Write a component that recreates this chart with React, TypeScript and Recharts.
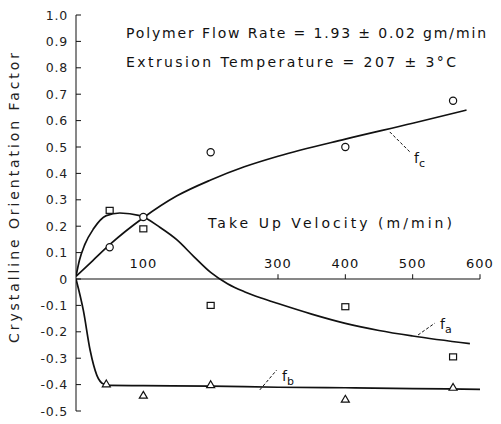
import React from 'react';
import { ComposedChart, Line, Scatter, XAxis, YAxis, ReferenceLine } from 'recharts';

// ---- data ----
const yTicks = [-0.5, -0.4, -0.3, -0.2, -0.1, 0, 0.1, 0.2, 0.3, 0.4, 0.5, 0.6, 0.7, 0.8, 0.9, 1.0];
const xTickLabels = [100, 300, 400, 500, 600];
const xTickMarks = [300, 400, 500, 600];

// fitted curves
const fcCurveX = [0, 25, 50, 100, 150, 200, 250, 300, 400, 500, 580];
const fcCurveY = [0.01, 0.07, 0.13, 0.232, 0.315, 0.375, 0.425, 0.465, 0.53, 0.59, 0.64];
const faCurveX = [0, 5, 13, 26, 45, 65, 95, 125, 150, 175, 200, 225, 250, 275, 300, 350, 400, 450, 500, 585];
const faCurveY = [0.01, 0.07, 0.13, 0.19, 0.24, 0.25, 0.24, 0.195, 0.148, 0.085, 0.025, -0.018, -0.048, -0.072, -0.093, -0.133, -0.168, -0.195, -0.216, -0.245];
const fbCurveX = [0, 11, 21, 31, 41, 50, 100, 200, 300, 400, 500, 600];
const fbCurveY = [0, -0.12, -0.27, -0.365, -0.398, -0.403, -0.404, -0.406, -0.41, -0.412, -0.415, -0.418];

// measured points
const circleX = [50, 100, 200, 400, 560];
const circleY = [0.12, 0.235, 0.48, 0.5, 0.675];
const squareX = [50, 100, 200, 400, 560];
const squareY = [0.26, 0.19, -0.1, -0.105, -0.295];
const triangleX = [45, 100, 200, 400, 560];
const triangleY = [-0.397, -0.44, -0.4, -0.455, -0.41];

const zip = (xs: number[], ys: number[]) => xs.map((x, i) => ({ x, y: ys[i] }));

const fcCurve = zip(fcCurveX, fcCurveY);
const faCurve = zip(faCurveX, faCurveY);
const fbCurve = zip(fbCurveX, fbCurveY);
const circles = zip(circleX, circleY);
const squares = zip(squareX, squareY);
const triangles = zip(triangleX, triangleY);

const INK = '#111';
const FONT = '"DejaVu Sans", sans-serif';

const YTick = (props: any) => {
  const { x, y, payload } = props;
  const v = payload.value;
  const label = Math.abs(v) < 1e-9 ? '0' : v.toFixed(1);
  return (
    <g>
      <text x={x} y={y} dy={4.5} textAnchor="end" fontSize={12.5} fontFamily={FONT} fill="#222" letterSpacing={0.8}>
        {label}
      </text>
      <line x1={x + 8} y1={y} x2={x + 13} y2={y} stroke={INK} strokeWidth={1} />
    </g>
  );
};

const CircleShape = (p: any) => (
  <circle cx={p.cx} cy={p.cy} r={3.6} fill="#fff" stroke={INK} strokeWidth={1.2} />
);
const SquareShape = (p: any) => (
  <rect x={p.cx - 3.5} y={p.cy - 3} width={7} height={6} fill="#fff" stroke={INK} strokeWidth={1.2} />
);
const TriangleShape = (p: any) => (
  <polygon
    points={`${p.cx},${p.cy - 3.8} ${p.cx + 4},${p.cy + 3} ${p.cx - 4},${p.cy + 3}`}
    fill="#fff"
    stroke={INK}
    strokeWidth={1.2}
  />
);

export default function App() {
  return (
    <div style={{ position: 'absolute', left: 0, top: 0, background: '#fff' }}>
      <ComposedChart width={501} height={424} margin={{ top: 15, right: 21, bottom: 13, left: 0 }}>
        <XAxis type="number" dataKey="x" domain={[0, 600]} hide allowDataOverflow />
        <YAxis
          type="number"
          domain={[-0.5, 1.0]}
          ticks={yTicks}
          interval={0}
          width={76}
          tickSize={0}
          tickMargin={8}
          tickLine={false}
          axisLine={{ stroke: INK, strokeWidth: 1 }}
          tick={<YTick />}
          allowDataOverflow
        />
        {/* x axis drawn at y = 0 */}
        <ReferenceLine segment={[{ x: 0, y: 0 }, { x: 600, y: 0 }]} stroke={INK} strokeWidth={1.1} />
        {xTickMarks.map((v) => (
          <ReferenceLine key={'t' + v} segment={[{ x: v, y: 0 }, { x: v, y: 0.018 }]} stroke={INK} strokeWidth={1} />
        ))}
        {xTickLabels.map((v) => (
          <ReferenceLine
            key={'l' + v}
            segment={[{ x: v, y: 0.04 }, { x: v, y: 0.041 }]}
            stroke="none"
            label={{ value: String(v), position: 'top', offset: 0, fontSize: 13, fontFamily: FONT, fill: INK, letterSpacing: 1 } as any}
          />
        ))}

        <Line data={fcCurve} dataKey="y" type="monotone" stroke={INK} strokeWidth={1.7} dot={false} isAnimationActive={false} />
        <Line data={faCurve} dataKey="y" type="monotone" stroke={INK} strokeWidth={1.7} dot={false} isAnimationActive={false} />
        <Line data={fbCurve} dataKey="y" type="monotone" stroke={INK} strokeWidth={1.7} dot={false} isAnimationActive={false} />

        <Scatter data={circles} dataKey="y" shape={<CircleShape />} isAnimationActive={false} />
        <Scatter data={squares} dataKey="y" shape={<SquareShape />} isAnimationActive={false} />
        <Scatter data={triangles} dataKey="y" shape={<TriangleShape />} isAnimationActive={false} />

        {/* leader lines to curve labels */}
        <ReferenceLine segment={[{ x: 466, y: 0.557 }, { x: 496, y: 0.481 }]} stroke={INK} strokeWidth={1} strokeDasharray="3 2" />
        <ReferenceLine segment={[{ x: 508, y: -0.212 }, { x: 533, y: -0.167 }]} stroke={INK} strokeWidth={1} strokeDasharray="3 2" />
        <ReferenceLine segment={[{ x: 273, y: -0.42 }, { x: 298, y: -0.345 }]} stroke={INK} strokeWidth={1} strokeDasharray="3 2" />

        <text x={126} y={38} fontSize={14} fontFamily={FONT} fill={INK} textLength={360} lengthAdjust="spacing">
          Polymer  Flow  Rate = 1.93 ± 0.02  gm/min
        </text>
        <text x={126} y={67} fontSize={14} fontFamily={FONT} fill={INK} textLength={330} lengthAdjust="spacing">
          Extrusion  Temperature = 207 ± 3°C
        </text>
        <text x={208} y={228} fontSize={14} fontFamily={FONT} fill={INK} textLength={244} lengthAdjust="spacing">
          Take Up Velocity  (m/min)
        </text>
        <text
          transform="translate(19,198) rotate(-90)"
          textAnchor="middle"
          fontSize={14}
          fontFamily={FONT}
          fill="#222"
          textLength={290}
          lengthAdjust="spacing"
        >
          Crystalline  Orientation  Factor
        </text>

        <text x={414} y={163} fontSize={14} fontFamily={FONT} fill={INK}>
          f<tspan dy={4} fontSize={11}>c</tspan>
        </text>
        <text x={440} y={329} fontSize={14} fontFamily={FONT} fill={INK}>
          f<tspan dy={4} fontSize={11}>a</tspan>
        </text>
        <text x={282} y={381} fontSize={14} fontFamily={FONT} fill={INK}>
          f<tspan dy={4} fontSize={11}>b</tspan>
        </text>
      </ComposedChart>
    </div>
  );
}
